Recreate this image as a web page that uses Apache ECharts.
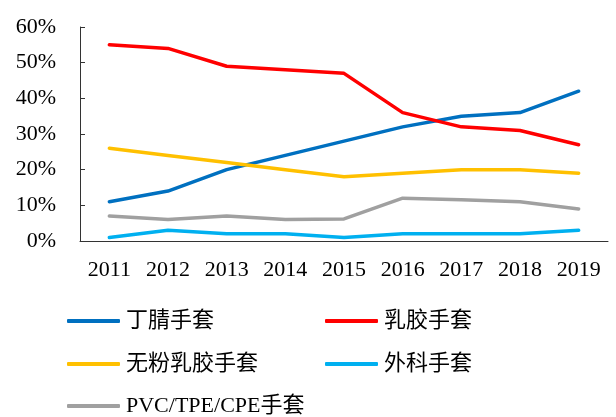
<!DOCTYPE html>
<html>
<head>
<meta charset="utf-8">
<script src="https://cdn.jsdelivr.net/npm/echarts@6/dist/echarts.min.js"></script>
<style>
	html, body { margin: 0; padding: 0; background: #fff; }
	#chart { width: 616px; height: 417px; }
</style>
</head>
<body>
<div id="chart"></div>
<script>
var years = ['2011', '2012', '2013', '2014', '2015', '2016', '2017', '2018', '2019'];
var nitrile = [11, 14, 20, 24, 28, 32, 35, 36, 42];
var latex = [55, 54, 49, 48, 47, 36, 32, 31, 27];
var powderFree = [26, 24, 22, 20, 18, 19, 20, 20, 19];
var surgical = [1, 3, 2, 2, 1, 2, 2, 2, 3];
var pvc = [7, 6, 7, 6, 6.2, 12, 11.6, 11, 9];
var yTicks = [0, 10, 20, 30, 40, 50, 60];

!function(){
	var dom = document.getElementById('chart');
	var myChart = echarts.init(dom);
	var serif = '"Liberation Serif", "Times New Roman", serif';
	var legendFont = '"Liberation Serif", "Noto Sans CJK SC", serif';

	var list = [
		{name: '丁腈手套', data: nitrile, color: '#0070C0', left: 67, top: 322},
		{name: '乳胶手套', data: latex, color: '#FF0000', left: 325, top: 322},
		{name: '无粉乳胶手套', data: powderFree, color: '#FFC000', left: 67, top: 365},
		{name: '外科手套', data: surgical, color: '#00B0F0', left: 325, top: 365},
		{name: 'PVC/TPE/CPE手套', data: pvc, color: '#A0A0A0', left: 67, top: 407}
	];

	var legends = list.map(function(s){
		return {
			data: [{name: s.name, icon: 'roundRect'}],
			left: s.left,
			top: s.top - 12,
			padding: 0,
			itemWidth: 53,
			itemHeight: 4,
			itemGap: 6,
			textStyle: {fontFamily: legendFont, fontSize: 22, color: '#000', padding: [0, 0, 0, 1]}
		};
	});

	var series = list.map(function(s){
		return {
			name: s.name,
			type: 'line',
			data: s.data,
			symbol: 'none',
			smooth: false,
			color: s.color,
			lineStyle: {width: 3.5, color: s.color, cap: 'round', join: 'round'}
		};
	});

	var option = {
		animation: false,
		backgroundColor: '#fff',
		legend: legends,
		grid: {left: 80, right: 8, top: 27, bottom: 176},
		xAxis: {
			type: 'category',
			data: years,
			boundaryGap: true,
			axisLine: {lineStyle: {color: '#333', width: 1}},
			axisTick: {inside: true, length: 5, lineStyle: {color: '#333'}},
			axisLabel: {fontFamily: serif, fontSize: 22, color: '#000', margin: 18}
		},
		yAxis: {
			type: 'value',
			min: yTicks[0],
			max: yTicks[yTicks.length - 1],
			interval: 10,
			axisLine: {show: true, lineStyle: {color: '#333', width: 1}},
			axisTick: {show: true, inside: true, length: 5, lineStyle: {color: '#333'}},
			splitLine: {show: false},
			axisLabel: {fontFamily: serif, fontSize: 22, color: '#000', margin: 24, formatter: '{value}%'}
		},
		series: series
	};

	myChart.setOption(option, true);
}();
</script>
</body>
</html>
